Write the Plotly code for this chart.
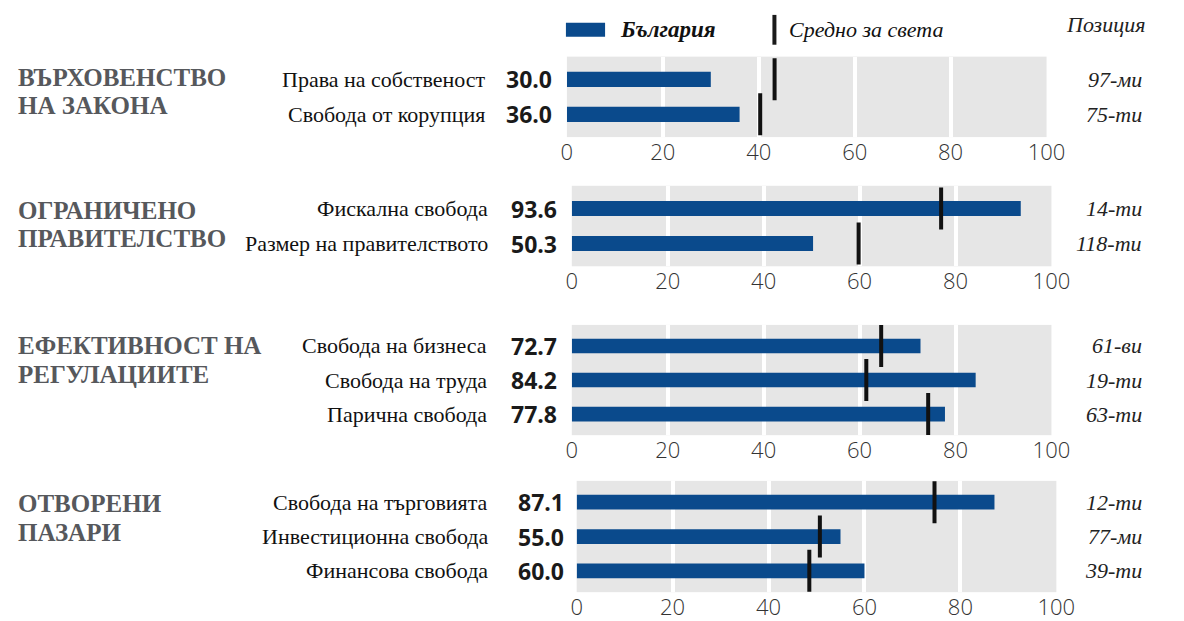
import plotly.graph_objects as go

# ---- data ----
group_titles = [["ВЪРХОВЕНСТВО", "НА ЗАКОНА"], ["ОГРАНИЧЕНО", "ПРАВИТЕЛСТВО"],
                ["ЕФЕКТИВНОСТ НА", "РЕГУЛАЦИИТЕ"], ["ОТВОРЕНИ", "ПАЗАРИ"]]
indicators = [
    ["Права на собственост", "Свобода от корупция"],
    ["Фискална свобода", "Размер на правителството"],
    ["Свобода на бизнеса", "Свобода на труда", "Парична свобода"],
    ["Свобода на търговията", "Инвестиционна свобода", "Финансова свобода"],
]
bulgaria = [
    [30.0, 36.0],
    [93.6, 50.3],
    [72.7, 84.2, 77.8],
    [87.1, 55.0, 60.0],
]
world_avg = [
    [43.3, 40.3],
    [77.0, 59.8],
    [64.5, 61.4, 74.3],
    [74.6, 50.7, 48.5],
]
ranks = [
    ["97-ми", "75-ти"],
    ["14-ти", "118-ти"],
    ["61-ви", "19-ти", "63-ти"],
    ["12-ти", "77-ми", "39-ти"],
]
tick_vals = [0, 20, 40, 60, 80, 100]

# ---- layout geometry (pixels) ----
W, H = 1184, 621
panel_x = [(573, 1063), (578, 1068), (578, 1068), (583, 1073)]
panel_y = [(57, 138), (187, 268), (327, 438), (484, 596)]
row_pad = [0.65, 0.65, 0.62, 0.62]
label_right = [491, 494, 493, 494]
value_right = [560, 565, 565, 572]
title_lines_y = [(78, 106), (212, 240), (348, 377), (507, 536)]

BLUE = "#0a4a8c"
SERIF = "Liberation Serif, Times New Roman, serif"
SANS = "Open Sans, Noto Sans, sans-serif"

fig = go.Figure()
annotations = []
shapes = []

for i in range(4):
    xa = "x" if i == 0 else f"x{i+1}"
    ya = "y" if i == 0 else f"y{i+1}"
    n = len(indicators[i])
    fig.add_trace(go.Bar(
        x=bulgaria[i], y=indicators[i], orientation="h",
        marker=dict(color=BLUE, line=dict(width=0)), width=0.43,
        xaxis=xa, yaxis=ya, showlegend=False, hoverinfo="x+y",
    ))
    fig.add_trace(go.Scatter(
        x=world_avg[i], y=indicators[i], mode="markers",
        marker=dict(symbol="line-ns", size=30,
                    line=dict(width=4, color="#111111")),
        xaxis=xa, yaxis=ya, showlegend=False, hoverinfo="x+y",
    ))
    x0, x1 = panel_x[i]
    y0, y1 = panel_y[i]
    fig.layout[f"xaxis{'' if i == 0 else i+1}"] = dict(
        domain=[x0 / W, x1 / W], range=[0, 100], anchor=ya,
        tickvals=tick_vals, showgrid=True, gridcolor="white", gridwidth=4,
        zeroline=False, showline=False, ticks="",
        tickfont=dict(family=SANS, size=22, color="#333333", weight=300),
        fixedrange=True,
    )
    fig.layout[f"yaxis{'' if i == 0 else i+1}"] = dict(
        domain=[1 - y1 / H, 1 - y0 / H], anchor=xa,
        type="category", categoryorder="array", categoryarray=indicators[i],
        range=[n - 1 + row_pad[i], -row_pad[i]], showticklabels=False,
        showgrid=False, zeroline=False, fixedrange=True,
    )
    for j, name in enumerate(indicators[i]):
        annotations.append(dict(
            xref="paper", yref=ya, x=label_right[i] / W, y=j,
            text=name, showarrow=False, xanchor="right", yanchor="middle",
            font=dict(family=SERIF, size=22, color="#111111"),
        ))
        annotations.append(dict(
            xref="paper", yref=ya, x=value_right[i] / W, y=j,
            text=f"{bulgaria[i][j]:.1f}", showarrow=False,
            xanchor="right", yanchor="middle",
            font=dict(family=SANS, size=23, color="#1a1a1a", weight=700),
        ))
        annotations.append(dict(
            xref="paper", yref=ya, x=1163 / W, y=j,
            text=ranks[i][j], showarrow=False, xanchor="right",
            yanchor="middle",
            font=dict(family=SERIF, size=22, color="#222222", style="italic"),
        ))
    for k, line in enumerate(group_titles[i]):
        annotations.append(dict(
            xref="paper", yref="paper", x=10 / W,
            y=1 - title_lines_y[i][k] / H,
            text=line, showarrow=False, xanchor="left", yanchor="middle",
            font=dict(family=SERIF, size=25, color="#56585c", weight=700),
        ))

# ---- custom legend ----
shapes.append(dict(type="rect", xref="paper", yref="paper",
                   x0=572 / W, x1=612 / W, y0=1 - 37 / H, y1=1 - 23 / H,
                   fillcolor=BLUE, line=dict(width=0)))
shapes.append(dict(type="line", xref="paper", yref="paper",
                   x0=785 / W, x1=785 / W, y0=1 - 45 / H, y1=1 - 15 / H,
                   line=dict(color="#1a1a1a", width=4)))
annotations.append(dict(xref="paper", yref="paper", x=625 / W, y=1 - 30 / H,
                        text="България", showarrow=False, xanchor="left",
                        yanchor="middle",
                        font=dict(family=SERIF, size=23, color="#111111",
                                  weight=700, style="italic")))
annotations.append(dict(xref="paper", yref="paper", x=798 / W, y=1 - 30 / H,
                        text="Средно за света", showarrow=False,
                        xanchor="left", yanchor="middle",
                        font=dict(family=SERIF, size=22, color="#111111",
                                  style="italic")))
annotations.append(dict(xref="paper", yref="paper", x=1166 / W, y=1 - 25 / H,
                        text="Позиция", showarrow=False, xanchor="right",
                        yanchor="middle",
                        font=dict(family=SERIF, size=22, color="#222222",
                                  style="italic")))

fig.update_layout(
    width=W, height=H, margin=dict(l=0, r=0, t=0, b=0),
    paper_bgcolor="white", plot_bgcolor="#e6e6e6",
    annotations=annotations, shapes=shapes,
    showlegend=False,
)

fig.write_html(
    "out.html",
    config={"displayModeBar": False},
    post_script="document.body.style.margin='0';"
                "document.body.style.overflow='hidden';",
)
